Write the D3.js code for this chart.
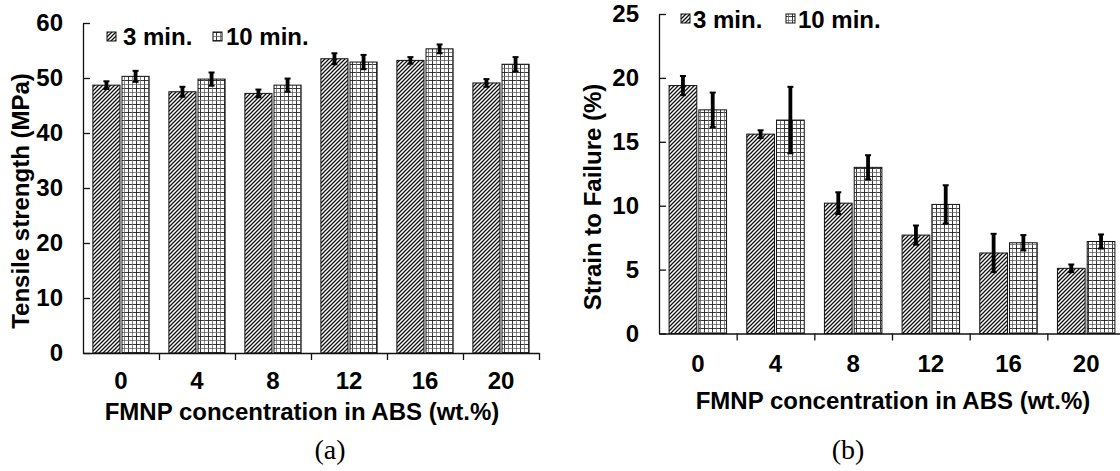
<!DOCTYPE html>
<html>
<head>
<meta charset="utf-8">
<script src="https://cdn.jsdelivr.net/npm/d3@7"></script>
<style>
  html, body { margin: 0; padding: 0; background: #fff; }
  svg { display: block; }
  text { font-family: "Liberation Sans", Arial, sans-serif; font-weight: bold; fill: #000; }
</style>
</head>
<body>
<svg id="chart" width="1120" height="471"></svg>
<script>
// ---- data ----
const categories = ["0", "4", "8", "12", "16", "20"];
const seriesNames = ["3 min.", "10 min."];
const tensile3 = [48.7, 47.5, 47.2, 53.5, 53.2, 49.1];
const tensile10 = [50.3, 49.8, 48.7, 52.9, 55.3, 52.5];
const tensileErr3 = [0.7, 0.9, 0.7, 1.0, 0.6, 0.7];
const tensileErr10 = [1.0, 1.2, 1.2, 1.3, 0.8, 1.3];
const strain3 = [19.4, 15.6, 10.2, 7.7, 6.3, 5.1];
const strain10 = [17.5, 16.7, 13.0, 10.1, 7.1, 7.2];
const strainErr3 = [0.75, 0.3, 0.85, 0.75, 1.5, 0.3];
const strainErr10 = [1.35, 2.6, 0.95, 1.5, 0.6, 0.55];
const tensileTicks = [0, 10, 20, 30, 40, 50, 60];
const strainTicks = [0, 5, 10, 15, 20, 25];
const xTitle = "FMNP concentration in ABS (wt.%)";

const svg = d3.select("#chart");
const defs = svg.append("defs");

// hatch pattern
const hp = defs.append("pattern").attr("id", "hatch").attr("patternUnits", "userSpaceOnUse")
  .attr("width", 4).attr("height", 4);
hp.append("rect").attr("width", 4).attr("height", 4).attr("fill", "#fff");
hp.append("path").attr("d", "M-1,1 L1,-1 M0,4 L4,0 M3,5 L5,3")
  .attr("stroke", "#111").attr("stroke-width", 1.3);

// grid pattern
const gp = defs.append("pattern").attr("id", "grid").attr("patternUnits", "userSpaceOnUse")
  .attr("width", 8).attr("height", 8);
gp.append("rect").attr("width", 8).attr("height", 8).attr("fill", "#fff");
gp.append("path").attr("d", "M0.5,0 V8 M0,0.5 H8").attr("stroke", "#222").attr("stroke-width", 0.9);
gp.append("path").attr("d", "M4.5,0 V8 M0,4.5 H8").attr("stroke", "#666").attr("stroke-width", 0.8);

const fills = ["url(#hatch)", "url(#grid)"];
const FS = 24;

function panel(opt) {
  const g = svg.append("g");
  const x = d3.scaleBand().domain(categories).range([opt.x0, opt.x1])
    .paddingInner(0.26).paddingOuter(0.13);
  const xs = d3.scaleBand().domain(seriesNames).range([0, x.bandwidth()]).paddingInner(0.07);
  const y = d3.scaleLinear().domain([0, opt.max]).range([opt.yb, opt.yt]);
  const idx = d3.scaleLinear().domain([0, categories.length]).range([opt.x0, opt.x1]);

  const rows = categories.map((c, i) => seriesNames.map((s, j) => ({
    c, s, j, v: opt.vals[j][i], e: opt.errs[j][i]
  }))).flat();

  // bars
  g.selectAll("rect.bar").data(rows).join("rect").attr("class", "bar")
    .attr("x", d => x(d.c) + xs(d.s))
    .attr("width", xs.bandwidth())
    .attr("y", d => y(d.v))
    .attr("height", d => y(0) - y(d.v))
    .attr("fill", d => fills[d.j])
    .attr("stroke", "#111").attr("stroke-width", 1);

  // error bars
  const eb = g.selectAll("g.err").data(rows).join("g").attr("class", "err");
  const cx = d => x(d.c) + xs(d.s) + xs.bandwidth() / 2;
  eb.append("line").attr("x1", cx).attr("x2", cx)
    .attr("y1", d => y(d.v + d.e)).attr("y2", d => y(d.v - d.e))
    .attr("stroke", "#000").attr("stroke-width", 3.8);
  eb.append("line").attr("x1", d => cx(d) - 3).attr("x2", d => cx(d) + 3)
    .attr("y1", d => y(d.v + d.e)).attr("y2", d => y(d.v + d.e))
    .attr("stroke", "#000").attr("stroke-width", 2);
  eb.append("line").attr("x1", d => cx(d) - 3).attr("x2", d => cx(d) + 3)
    .attr("y1", d => y(d.v - d.e)).attr("y2", d => y(d.v - d.e))
    .attr("stroke", "#000").attr("stroke-width", 2);

  // y axis
  const ya = g.append("g").attr("transform", `translate(${opt.x0},0)`)
    .call(d3.axisLeft(y).tickValues(opt.ticks).tickSizeInner(-7).tickSizeOuter(0).tickPadding(20));
  ya.select(".domain").attr("stroke", "#111").attr("stroke-width", 1.3);
  ya.selectAll(".tick line").attr("stroke", "#111").attr("stroke-width", 1.3);
  ya.selectAll("text").style("font-size", FS + "px").style("font-family", "Liberation Sans, Arial, sans-serif")
    .style("font-weight", "bold");

  // x axis: boundary ticks
  const xb = g.append("g").attr("transform", `translate(0,${opt.yb})`)
    .call(d3.axisBottom(idx).tickValues(d3.range(1, categories.length + 1)).tickFormat("")
      .tickSizeInner(7).tickSizeOuter(0));
  xb.select(".domain").attr("stroke", "#111").attr("stroke-width", 1.5);
  xb.selectAll(".tick line").attr("stroke", "#111").attr("stroke-width", 1.3);

  // x axis: category labels
  const xl = g.append("g").attr("transform", `translate(0,${opt.yb})`)
    .call(d3.axisBottom(x).tickSize(0).tickPadding(opt.labPad));
  xl.select(".domain").remove();
  xl.selectAll("text").style("font-size", FS + "px").style("font-family", "Liberation Sans, Arial, sans-serif")
    .style("font-weight", "bold");

  // titles
  g.append("text").attr("x", opt.xtX).attr("y", opt.xtY).attr("text-anchor", "middle")
    .style("font-size", FS + "px").text(xTitle);
  g.append("text").attr("transform", `translate(${opt.ytX},${opt.ytY}) rotate(-90)`)
    .attr("text-anchor", "middle").style("font-size", FS + "px").text(opt.yTitle);

  // legend
  const lg = g.append("g");
  seriesNames.forEach((s, j) => {
    const L = opt.leg[j];
    lg.append("rect").attr("x", L.bx).attr("y", L.by).attr("width", 9).attr("height", 9)
      .attr("fill", fills[j]).attr("stroke", "#111").attr("stroke-width", 1);
    lg.append("text").attr("x", L.tx).attr("y", L.ty).style("font-size", FS + "px").text(s);
  });

  // caption
  svg.append("text").attr("x", opt.capX).attr("y", 459).attr("text-anchor", "middle")
    .style("font-family", "Liberation Serif, Times New Roman, serif").style("font-weight", "normal")
    .style("font-size", "28px").text(opt.cap);
}

panel({
  x0: 83, x1: 539, yb: 353, yt: 23, max: 60, ticks: tensileTicks,
  vals: [tensile3, tensile10], errs: [tensileErr3, tensileErr10],
  labPad: 19, xtX: 302, xtY: 420, ytX: 29, ytY: 201,
  yTitle: "Tensile strength (MPa)",
  leg: [{ bx: 107, by: 32, tx: 123, ty: 45 }, { bx: 213, by: 32, tx: 226, ty: 45 }],
  capX: 330, cap: "(a)"
});

panel({
  x0: 659, x1: 1125, yb: 333.5, yt: 14, max: 25, ticks: strainTicks,
  vals: [strain3, strain10], errs: [strainErr3, strainErr10],
  labPad: 21.5, xtX: 893, xtY: 409, ytX: 601, ytY: 197,
  yTitle: "Strain to Failure (%)",
  leg: [{ bx: 681, by: 14, tx: 693, ty: 28 }, { bx: 786, by: 14, tx: 798, ty: 28 }],
  capX: 848, cap: "(b)"
});
</script>
</body>
</html>
